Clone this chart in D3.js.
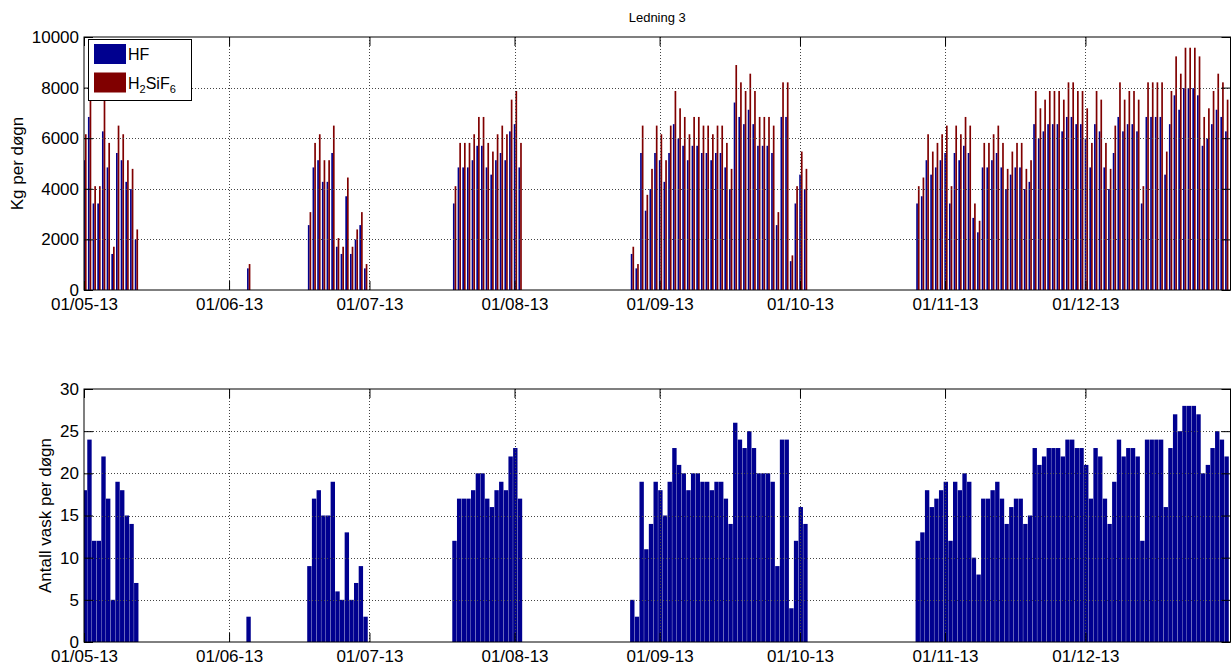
<!DOCTYPE html>
<html>
<head>
<meta charset="utf-8">
<script src="https://cdn.jsdelivr.net/npm/d3@7"></script>
<style>
  body { margin: 0; background: #fff; }
  text { font-family: "Liberation Sans", Arial, Helvetica, sans-serif; fill: #000; }
</style>
</head>
<body>
<svg id="chart" width="1232" height="665"></svg>
<script>
// Daily dosing log, Ledning 3 (2013)
const dates = [
  "2013-05-01","2013-05-02","2013-05-03","2013-05-04","2013-05-05","2013-05-06","2013-05-07","2013-05-08","2013-05-09","2013-05-10","2013-05-11","2013-05-12",
  "2013-06-05",
  "2013-06-18","2013-06-19","2013-06-20","2013-06-21","2013-06-22","2013-06-23","2013-06-24","2013-06-25","2013-06-26","2013-06-27","2013-06-28","2013-06-29","2013-06-30",
  "2013-07-19","2013-07-20","2013-07-21","2013-07-22","2013-07-23","2013-07-24","2013-07-25","2013-07-26","2013-07-27","2013-07-28","2013-07-29","2013-07-30","2013-07-31",
  "2013-08-01","2013-08-02",
  "2013-08-26","2013-08-27","2013-08-28","2013-08-29","2013-08-30","2013-08-31",
  "2013-09-01","2013-09-02","2013-09-03","2013-09-04","2013-09-05","2013-09-06","2013-09-07","2013-09-08","2013-09-09","2013-09-10",
  "2013-09-11","2013-09-12","2013-09-13","2013-09-14","2013-09-15","2013-09-16","2013-09-17","2013-09-18","2013-09-19","2013-09-20",
  "2013-09-21","2013-09-22","2013-09-23","2013-09-24","2013-09-25","2013-09-26","2013-09-27","2013-09-28","2013-09-29","2013-09-30",
  "2013-10-01","2013-10-02",
  "2013-10-26","2013-10-27","2013-10-28","2013-10-29","2013-10-30","2013-10-31",
  "2013-11-01","2013-11-02","2013-11-03","2013-11-04","2013-11-05","2013-11-06","2013-11-07","2013-11-08","2013-11-09","2013-11-10",
  "2013-11-11","2013-11-12","2013-11-13","2013-11-14","2013-11-15","2013-11-16","2013-11-17","2013-11-18","2013-11-19","2013-11-20",
  "2013-11-21","2013-11-22","2013-11-23","2013-11-24","2013-11-25","2013-11-26","2013-11-27","2013-11-28","2013-11-29","2013-11-30",
  "2013-12-01","2013-12-02","2013-12-03","2013-12-04","2013-12-05","2013-12-06","2013-12-07","2013-12-08","2013-12-09","2013-12-10",
  "2013-12-11","2013-12-12","2013-12-13","2013-12-14","2013-12-15","2013-12-16","2013-12-17","2013-12-18","2013-12-19","2013-12-20",
  "2013-12-21","2013-12-22","2013-12-23","2013-12-24","2013-12-25","2013-12-26","2013-12-27","2013-12-28","2013-12-29","2013-12-30","2013-12-31"
];

// Antall vask per døgn
const antallVask = [
  18,24,12,12,22,17,5,19,18,15,14,7,
  3,
  9,17,18,15,15,19,6,5,13,5,7,9,3,
  12,17,17,17,18,20,20,17,16,18,19,18,22,
  23,17,
  5,3,19,11,14,19,
  18,15,19,23,21,20,18,20,20,19,
  19,18,19,19,17,14,26,24,23,25,
  23,20,20,20,19,9,24,24,4,12,
  16,14,
  12,13,18,16,17,18,
  19,12,19,18,20,19,10,8,17,17,
  18,19,17,14,16,17,17,14,15,23,
  21,22,23,23,23,22,24,24,23,23,
  21,17,23,22,17,14,19,24,22,23,
  23,22,12,24,24,24,24,16,23,27,
  25,28,28,28,27,20,21,23,25,24,22
];

// HF, kg per døgn
const hfKg = [
  5130,6840,3420,3420,6270,4845,1425,5415,5130,4275,3990,1995,
  855,
  2565,4845,5130,4275,4275,5415,1710,1425,3705,1425,1995,2565,855,
  3420,4845,4845,4845,5130,5700,5700,4845,4560,5130,5415,5130,6270,
  6555,4845,
  1425,855,5415,3135,3990,5415,
  5130,4275,5415,6555,5985,5700,5130,5700,5700,5415,
  5415,5130,5415,5415,4845,3990,7410,6840,6555,7125,
  6555,5700,5700,5700,5415,2565,6840,6840,1140,3420,
  4560,3990,
  3420,3705,5130,4560,4845,5130,
  5415,3420,5415,5130,5700,5415,2850,2280,4845,4845,
  5130,5415,4845,3990,4560,4845,4845,3990,4275,6555,
  5985,6270,6555,6555,6555,6270,6840,6840,6555,6555,
  5985,4845,6555,6270,4845,3990,5415,6840,6270,6555,
  6555,6270,3420,6840,6840,6840,6840,4560,6555,7695,
  7125,7980,7980,7980,7695,5700,5985,6555,7125,6840,6270
];

// H2SiF6, kg per døgn
const h2sif6Kg = [
  6156,8208,4104,4104,7524,5814,1710,6498,6156,5130,4788,2394,
  1026,
  3078,5814,6156,5130,5130,6498,2052,1710,4446,1710,2394,3078,1026,
  4104,5814,5814,5814,6156,6840,6840,5814,5472,6156,6498,6156,7524,
  7866,5814,
  1710,1026,6498,3762,4788,6498,
  6156,5130,6498,7866,7182,6840,6156,6840,6840,6498,
  6498,6156,6498,6498,5814,4788,8892,8208,7866,8550,
  7866,6840,6840,6840,6498,3078,8208,8208,1368,4104,
  5472,4788,
  4104,4446,6156,5472,5814,6156,
  6498,4104,6498,6156,6840,6498,3420,2736,5814,5814,
  6156,6498,5814,4788,5472,5814,5814,4788,5130,7866,
  7182,7524,7866,7866,7866,7524,8208,8208,7866,7866,
  7182,5814,7866,7524,5814,4788,6498,8208,7524,7866,
  7866,7524,4104,8208,8208,8208,8208,5472,7866,9234,
  8550,9576,9576,9576,9234,6840,7182,7866,8550,8208,7524
];

const monthTicks = ["2013-05-01","2013-06-01","2013-07-01","2013-08-01","2013-09-01","2013-10-01","2013-11-01","2013-12-01"];
const kgTicks = [0, 2000, 4000, 6000, 8000, 10000];
const vaskTicks = [0, 5, 10, 15, 20, 25, 30];
const seriesNames = ["HF", "H2SiF6"];

const BLUE = "#00008f";
const RED = "#800000";

const parse = d3.timeParse("%Y-%m-%d");
const fmt = d3.timeFormat("%d/%m-%y");
const days = dates.map(parse);
const tickDates = monthTicks.map(parse);

const svg = d3.select("#chart");
svg.append("rect").attr("width", 1232).attr("height", 665).attr("fill", "#fff");

const left = 84, right = 1230.5;
const x = d3.scaleTime()
  .domain([parse("2013-05-01"), parse("2014-01-01")])
  .range([left, right]);
const dayW = x(parse("2013-05-02")) - x(parse("2013-05-01"));
const centre = d => x(d) + 0.2 * dayW;

const tickLen = 9;
const tickFont = 17;
const labelFont = 17;

function panel(id, top, bottom, y, yTicks) {
  const g = svg.append("g");
  g.append("clipPath").attr("id", id)
    .append("rect").attr("x", left).attr("y", top).attr("width", right - left).attr("height", bottom - top);
  const plot = g.append("g").attr("clip-path", `url(#${id})`);
  const bars = plot.append("g");
  const grid = g.append("g")
    .attr("stroke", "#444").attr("stroke-width", 1).attr("stroke-dasharray", "1,2").attr("fill", "none");
  grid.selectAll("line.v").data(tickDates.slice(1)).join("line")
    .attr("x1", d => Math.round(x(d)) + 0.5).attr("x2", d => Math.round(x(d)) + 0.5)
    .attr("y1", top).attr("y2", bottom);
  grid.selectAll("line.h").data(yTicks.slice(1, -1)).join("line")
    .attr("x1", left).attr("x2", right)
    .attr("y1", d => Math.round(y(d)) + 0.5).attr("y2", d => Math.round(y(d)) + 0.5);

  // x axis (ticks pointing inward) with date labels
  const xAxis = d3.axisBottom(x).tickValues(tickDates).tickFormat(fmt)
    .tickSizeInner(-tickLen).tickSizeOuter(0).tickPadding(8);
  const xg = g.append("g").attr("transform", `translate(0,${bottom})`).call(xAxis);
  xg.select(".domain").remove();
  xg.selectAll("text").attr("font-size", tickFont).attr("font-family", null);

  const xTop = d3.axisTop(x).tickValues(tickDates).tickFormat("")
    .tickSizeInner(-tickLen).tickSizeOuter(0);
  const xtg = g.append("g").attr("transform", `translate(0,${top})`).call(xTop);
  xtg.select(".domain").remove();

  const yAxis = d3.axisLeft(y).tickValues(yTicks).tickFormat(d3.format("d"))
    .tickSizeInner(-tickLen).tickSizeOuter(0).tickPadding(5);
  const yg = g.append("g").attr("transform", `translate(${left},0)`).call(yAxis);
  yg.select(".domain").remove();
  yg.selectAll("text").attr("font-size", tickFont).attr("font-family", null);

  const yRight = d3.axisRight(y).tickValues(yTicks).tickFormat("")
    .tickSizeInner(-tickLen).tickSizeOuter(0);
  const yrg = g.append("g").attr("transform", `translate(${right},0)`).call(yRight);
  yrg.select(".domain").remove();

  g.append("rect")
    .attr("x", left).attr("y", top).attr("width", right - left).attr("height", bottom - top)
    .attr("fill", "none").attr("stroke", "#000").attr("stroke-width", 1);
  return { g, bars };
}

// ---- upper panel: kg per day, HF and H2SiF6 side by side
const yKg = d3.scaleLinear().domain([0, 10000]).range([290, 37]);
const p1 = panel("clipKg", 37, 290, yKg, kgTicks);
const kgRows = days.map((d, i) => ({ d, hf: hfKg[i], si: h2sif6Kg[i] }));
const bw = 0.36 * dayW;
p1.bars.selectAll("rect.hf").data(kgRows).join("rect")
  .attr("x", r => centre(r.d) - bw).attr("width", bw)
  .attr("y", r => yKg(r.hf)).attr("height", r => yKg(0) - yKg(r.hf))
  .attr("fill", BLUE);
p1.bars.selectAll("rect.si").data(kgRows).join("rect")
  .attr("x", r => centre(r.d)).attr("width", bw)
  .attr("y", r => yKg(r.si)).attr("height", r => yKg(0) - yKg(r.si))
  .attr("fill", RED);

// title
svg.append("text").attr("x", (left + right) / 2).attr("y", 22)
  .attr("text-anchor", "middle").attr("font-size", 13).text("Ledning 3");

// y label
svg.append("text").attr("transform", `translate(23,${(37 + 290) / 2}) rotate(-90)`)
  .attr("text-anchor", "middle").attr("font-size", labelFont).text("Kg per døgn");

// legend
const lg = svg.append("g");
lg.append("rect").attr("x", 88.5).attr("y", 39.5).attr("width", 103).attr("height", 61)
  .attr("fill", "#fff").attr("stroke", "#000");
const legendColors = [BLUE, RED];
seriesNames.forEach((name, i) => {
  const yy = 44 + i * 28.5;
  lg.append("rect").attr("x", 94).attr("y", yy).attr("width", 32).attr("height", 20).attr("fill", legendColors[i]);
  const t = lg.append("text").attr("x", 128).attr("y", yy + 16).attr("font-size", 16);
  if (name === "H2SiF6") {
    t.append("tspan").text("H");
    t.append("tspan").attr("font-size", 11).attr("dy", 4).text("2");
    t.append("tspan").attr("dy", -4).text("SiF");
    t.append("tspan").attr("font-size", 11).attr("dy", 4).text("6");
  } else {
    t.text(name);
  }
});

// ---- lower panel: washes per day
const yVask = d3.scaleLinear().domain([0, 30]).range([642, 389]);
const p2 = panel("clipVask", 389, 642, yVask, vaskTicks);
const vaskRows = days.map((d, i) => ({ d, n: antallVask[i] }));
p2.bars.selectAll("rect").data(vaskRows).join("rect")
  .attr("x", r => centre(r.d) - dayW / 2).attr("width", dayW - 0.3)
  .attr("y", r => yVask(r.n)).attr("height", r => yVask(0) - yVask(r.n))
  .attr("fill", BLUE);

svg.append("text").attr("transform", `translate(51,${(389 + 642) / 2}) rotate(-90)`)
  .attr("text-anchor", "middle").attr("font-size", labelFont).text("Antall vask per døgn");
</script>
</body>
</html>
